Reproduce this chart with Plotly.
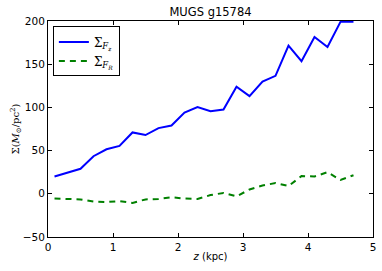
import plotly.graph_objects as go

z_kpc = [0.1, 0.3, 0.5, 0.7, 0.9, 1.1, 1.3, 1.5, 1.7, 1.9, 2.1, 2.3,
         2.5, 2.7, 2.9, 3.1, 3.3, 3.5, 3.7, 3.9, 4.1, 4.3, 4.5, 4.7]
sigma_fz = [20, 24.5, 29, 43.5, 51.5, 55.5, 71, 68, 76, 79, 94, 100.5,
            95.5, 97.5, 124, 113, 130, 136.5, 171.5, 153.5, 181.5, 170, 199, 199]
sigma_fr = [-5.5, -6, -6.5, -9, -9.5, -8.5, -10.5, -6.5, -6, -4, -5.5, -6,
            -1.5, 1, -3, 5, 9.5, 12.5, 9, 20.5, 20, 25, 16, 21.5]
x_ticks = [0, 1, 2, 3, 4, 5]
y_ticks = [-50, 0, 50, 100, 150, 200]

fig = go.Figure()
fig.add_trace(go.Scatter(x=z_kpc, y=sigma_fz, mode="lines",
                         name="Σ<sub><i>F<sub>z</sub></i></sub>",
                         line=dict(color="#0000ff", width=2)))
fig.add_trace(go.Scatter(x=z_kpc, y=sigma_fr, mode="lines",
                         name="Σ<sub><i>F<sub>R</sub></i></sub>",
                         line=dict(color="#008000", width=2, dash="6px,5px")))

axis_common = dict(showline=True, linecolor="black", linewidth=1, mirror="ticks",
                   ticks="inside", ticklen=4, tickcolor="black", showgrid=False,
                   zeroline=False, automargin=False,
                   tickfont=dict(family="DejaVu Sans", size=10.5, color="black"))

fig.update_layout(
    width=382, height=271,
    margin=dict(l=48, r=9, t=21, b=34),
    paper_bgcolor="white", plot_bgcolor="white",
    title=dict(text="MUGS g15784", x=0.551, xanchor="center", xref="container",
               y=1 - 11.5 / 271, yref="container", yanchor="middle",
               font=dict(family="DejaVu Sans", size=11.5, color="black")),
    xaxis=dict(range=[-0.0001, 5.0001], tickvals=x_ticks,
               title=dict(text="<i>z</i> (kpc)", standoff=1,
                          font=dict(family="DejaVu Sans", size=10, color="black")),
               **axis_common),
    yaxis=dict(range=[-50, 200], tickvals=y_ticks,
               title=dict(text="Σ(<i>M</i><sub>⊙</sub>/pc<sup>2</sup>)", standoff=1,
                          font=dict(family="DejaVu Serif", size=10, color="black")),
               **axis_common),
    legend=dict(x=0.015, y=0.975, xanchor="left", yanchor="top",
                bordercolor="black", borderwidth=1, bgcolor="white",
                font=dict(family="DejaVu Serif", size=12, color="black"),
                tracegroupgap=2),
    showlegend=True,
)

fig.write_html("out.html", config={"displayModeBar": False},
               post_script="document.body.style.margin='0px';")
